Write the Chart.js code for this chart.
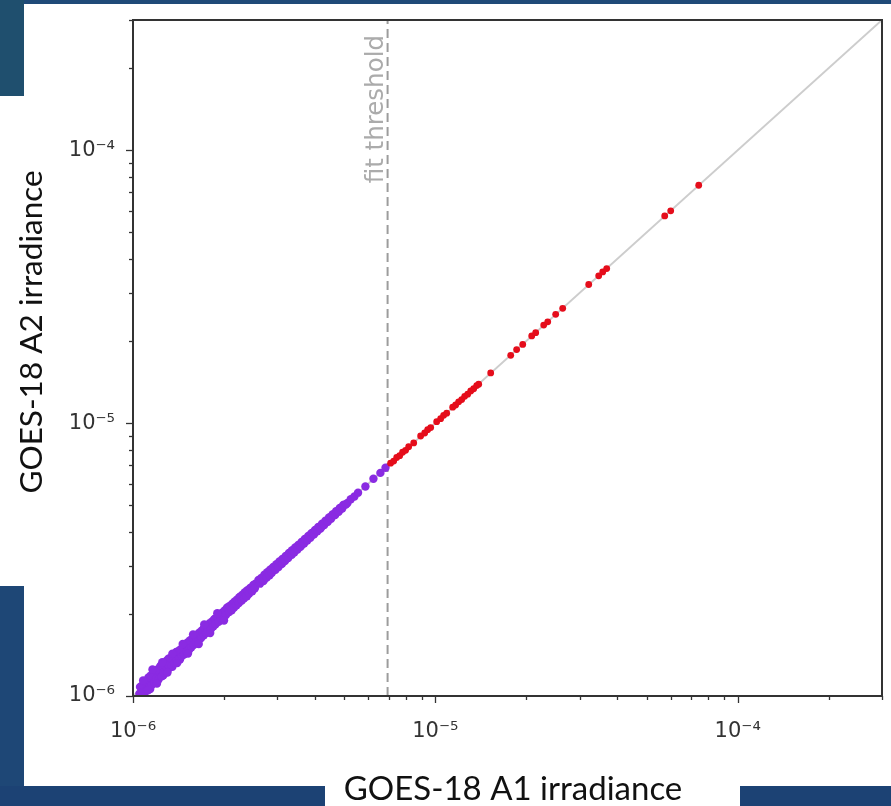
<!DOCTYPE html>
<html>
<head>
<meta charset="utf-8">
<script src="https://cdn.jsdelivr.net/npm/chart.js@4.4.1/dist/chart.umd.min.js"></script>
<style>
  html,body{margin:0;padding:0;background:#ffffff;}
  #wrap{position:relative;width:891px;height:806px;overflow:hidden;background:#ffffff;}
  .blk{position:absolute;}
  canvas{position:absolute;left:0;top:0;}
</style>
</head>
<body>
<div id="wrap">
  <div class="blk" style="left:0;top:0;width:891px;height:4px;background:#1f4a78;"></div>
  <div class="blk" style="left:0;top:0;width:24px;height:96px;background:#1f4f6e;"></div>
  <div class="blk" style="left:0;top:586px;width:24px;height:220px;background:#1e4776;"></div>
  <div class="blk" style="left:0;top:786px;width:325px;height:20px;background:#1c4274;"></div>
  <div class="blk" style="left:740px;top:786px;width:151px;height:20px;background:#1c4274;"></div>
  <canvas id="c" width="891" height="806"></canvas>
</div>
<script>
// ---- data ----
const axisMin = 1e-6;
const axisMax = 3e-4;
const fitThreshold = 6.95e-6;

const majorTicks = [1e-6, 1e-5, 1e-4];
const majorTickLabels = ['10\u207B\u2076', '10\u207B\u2075', '10\u207B\u2074'];
const minorTicks = [2e-6,3e-6,4e-6,5e-6,6e-6,7e-6,8e-6,9e-6,
                    2e-5,3e-5,4e-5,5e-5,6e-5,7e-5,8e-5,9e-5,
                    2e-4,3e-4];

const xTitle = 'GOES-18 A1 irradiance';
const yTitle = 'GOES-18 A2 irradiance';
const thresholdLabel = 'fit threshold';

// below threshold (purple)
const belowA1 = [1.05e-6,1.06e-6,1.07e-6,1.08e-6,1.09e-6,1.10e-6,1.11e-6,1.12e-6,1.13e-6,1.14e-6,1.15e-6,1.16e-6,1.17e-6,1.18e-6,1.19e-6,1.20e-6,1.21e-6,1.22e-6,1.23e-6,1.24e-6,1.25e-6,1.26e-6,1.27e-6,1.29e-6,1.30e-6,1.31e-6,1.32e-6,1.34e-6,1.35e-6,1.36e-6,1.38e-6,1.39e-6,1.40e-6,1.42e-6,1.43e-6,1.44e-6,1.46e-6,1.47e-6,1.48e-6,1.50e-6,1.52e-6,1.53e-6,1.55e-6,1.57e-6,1.58e-6,1.60e-6,1.62e-6,1.64e-6,1.65e-6,1.67e-6,1.70e-6,1.71e-6,1.73e-6,1.76e-6,1.78e-6,1.79e-6,1.82e-6,1.85e-6,1.86e-6,1.88e-6,1.91e-6,1.94e-6,1.95e-6,1.98e-6,2.02e-6,2.04e-6,2.06e-6,2.10e-6,2.12e-6,2.14e-6,2.18e-6,2.22e-6,2.25e-6,2.27e-6,2.31e-6,2.36e-6,2.38e-6,2.41e-6,2.46e-6,2.51e-6,2.54e-6,2.62e-6,2.68e-6,2.71e-6,2.74e-6,2.80e-6,2.86e-6,2.90e-6,2.93e-6,3.00e-6,3.07e-6,3.10e-6,3.14e-6,3.22e-6,3.30e-6,3.34e-6,3.38e-6,3.46e-6,3.55e-6,3.60e-6,3.64e-6,3.73e-6,3.83e-6,3.88e-6,3.93e-6,4.03e-6,4.14e-6,4.20e-6,4.25e-6,4.37e-6,4.49e-6,4.55e-6,4.61e-6,4.74e-6,4.87e-6,5.00e-6,5.12e-6,5.25e-6,5.40e-6,5.55e-6,5.87e-6,6.24e-6,6.58e-6,6.84e-6];
const belowA2 = [1.02e-6,1.00e-6,1.09e-6,1.04e-6,1.01e-6,1.12e-6,1.07e-6,1.15e-6,1.10e-6,1.06e-6,1.13e-6,1.19e-6,1.23e-6,1.15e-6,1.22e-6,1.13e-6,1.18e-6,1.25e-6,1.28e-6,1.21e-6,1.27e-6,1.19e-6,1.24e-6,1.31e-6,1.27e-6,1.37e-6,1.34e-6,1.31e-6,1.28e-6,1.38e-6,1.35e-6,1.45e-6,1.42e-6,1.39e-6,1.36e-6,1.46e-6,1.43e-6,1.53e-6,1.50e-6,1.47e-6,1.54e-6,1.47e-6,1.52e-6,1.59e-6,1.63e-6,1.57e-6,1.64e-6,1.58e-6,1.62e-6,1.69e-6,1.67e-6,1.76e-6,1.75e-6,1.73e-6,1.72e-6,1.81e-6,1.79e-6,1.87e-6,1.91e-6,1.86e-6,1.93e-6,1.89e-6,1.92e-6,2.00e-6,1.99e-6,2.09e-6,2.08e-6,2.07e-6,2.06e-6,2.16e-6,2.15e-6,2.24e-6,2.30e-6,2.24e-6,2.33e-6,2.33e-6,2.32e-6,2.43e-6,2.43e-6,2.53e-6,2.58e-6,2.64e-6,2.65e-6,2.66e-6,2.76e-6,2.77e-6,2.88e-6,2.94e-6,2.90e-6,3.02e-6,3.04e-6,3.06e-6,3.16e-6,3.19e-6,3.32e-6,3.38e-6,3.35e-6,3.48e-6,3.52e-6,3.56e-6,3.66e-6,3.71e-6,3.85e-6,3.92e-6,3.90e-6,4.05e-6,4.11e-6,4.16e-6,4.27e-6,4.34e-6,4.51e-6,4.58e-6,4.59e-6,4.76e-6,4.85e-6,5.02e-6,5.10e-6,5.26e-6,5.38e-6,5.56e-6,5.86e-6,6.25e-6,6.57e-6,6.86e-6];
const belowMoreA1 = [1.055e-6,1.075e-6,1.095e-6,1.105e-6,1.125e-6,1.135e-6,1.145e-6,1.155e-6,1.165e-6,1.175e-6,1.185e-6,1.195e-6,1.205e-6,1.215e-6,1.235e-6,1.245e-6,1.255e-6,1.265e-6,1.28e-6,1.285e-6,1.295e-6,1.305e-6,1.315e-6,1.33e-6,1.345e-6,1.355e-6,1.37e-6,1.385e-6,1.395e-6,1.41e-6,1.425e-6,1.435e-6,1.45e-6,1.465e-6,1.475e-6,1.49e-6,1.505e-6,1.515e-6,1.535e-6,1.545e-6,1.56e-6,1.575e-6,1.59e-6,1.605e-6,1.615e-6,1.63e-6,1.645e-6,1.66e-6,1.68e-6,1.69e-6,1.715e-6,1.725e-6,1.745e-6,1.755e-6,1.77e-6,1.795e-6,1.81e-6,1.83e-6,1.845e-6,1.865e-6,1.875e-6,1.90e-6,1.92e-6,1.935e-6,1.96e-6,1.97e-6,1.99e-6,2.01e-6,2.03e-6,2.05e-6,2.08e-6,2.09e-6,2.115e-6,2.13e-6,2.16e-6,2.17e-6,2.20e-6,2.21e-6,2.24e-6,2.26e-6,2.29e-6,2.30e-6,2.33e-6,2.345e-6,2.37e-6,2.39e-6,2.42e-6,2.44e-6,2.48e-6,2.50e-6,2.53e-6,2.60e-6,2.63e-6,2.66e-6,2.70e-6,2.72e-6,2.77e-6,2.78e-6,2.83e-6,2.84e-6,2.88e-6,2.91e-6,2.96e-6,2.98e-6,3.03e-6,3.05e-6,3.11e-6,3.12e-6,3.18e-6,3.20e-6,3.26e-6,3.28e-6,3.35e-6,3.36e-6,3.42e-6,3.44e-6,3.50e-6,3.52e-6,3.58e-6,3.61e-6,3.68e-6,3.70e-6,3.77e-6,3.80e-6,3.86e-6,3.90e-6,3.97e-6,4.00e-6,4.07e-6,4.10e-6,4.17e-6,4.22e-6,4.29e-6,4.33e-6,4.41e-6,4.45e-6,4.52e-6,4.58e-6,4.66e-6,4.70e-6,4.79e-6,4.83e-6,4.92e-6,4.96e-6,5.06e-6];
const belowMoreA2 = [1.08e-6,1.03e-6,1.13e-6,1.05e-6,1.17e-6,1.08e-6,1.19e-6,1.10e-6,1.21e-6,1.12e-6,1.24e-6,1.16e-6,1.25e-6,1.15e-6,1.29e-6,1.18e-6,1.31e-6,1.22e-6,1.33e-6,1.23e-6,1.35e-6,1.25e-6,1.29e-6,1.38e-6,1.29e-6,1.40e-6,1.32e-6,1.43e-6,1.35e-6,1.46e-6,1.37e-6,1.48e-6,1.40e-6,1.51e-6,1.42e-6,1.54e-6,1.45e-6,1.57e-6,1.49e-6,1.60e-6,1.51e-6,1.62e-6,1.54e-6,1.66e-6,1.57e-6,1.68e-6,1.60e-6,1.71e-6,1.63e-6,1.74e-6,1.67e-6,1.78e-6,1.70e-6,1.80e-6,1.73e-6,1.85e-6,1.76e-6,1.88e-6,1.80e-6,1.92e-6,1.83e-6,1.95e-6,1.87e-6,1.98e-6,1.91e-6,2.02e-6,1.94e-6,2.06e-6,1.98e-6,2.11e-6,2.03e-6,2.14e-6,2.07e-6,2.18e-6,2.11e-6,2.22e-6,2.15e-6,2.26e-6,2.19e-6,2.31e-6,2.24e-6,2.35e-6,2.28e-6,2.40e-6,2.32e-6,2.44e-6,2.37e-6,2.49e-6,2.42e-6,2.55e-6,2.48e-6,2.66e-6,2.58e-6,2.71e-6,2.64e-6,2.78e-6,2.72e-6,2.84e-6,2.77e-6,2.90e-6,2.83e-6,2.97e-6,2.90e-6,3.04e-6,2.97e-6,3.11e-6,3.05e-6,3.18e-6,3.12e-6,3.26e-6,3.20e-6,3.34e-6,3.29e-6,3.42e-6,3.36e-6,3.50e-6,3.44e-6,3.58e-6,3.52e-6,3.67e-6,3.62e-6,3.76e-6,3.71e-6,3.86e-6,3.80e-6,3.96e-6,3.91e-6,4.06e-6,4.01e-6,4.16e-6,4.11e-6,4.28e-6,4.23e-6,4.39e-6,4.35e-6,4.51e-6,4.46e-6,4.64e-6,4.60e-6,4.76e-6,4.73e-6,4.89e-6,4.86e-6,5.01e-6,5.03e-6];
const belowSpreadA1 = [1.08e-6,1.12e-6,1.16e-6,1.20e-6,1.25e-6,1.30e-6,1.35e-6,1.40e-6,1.46e-6,1.52e-6,1.58e-6,1.65e-6,1.72e-6,1.80e-6,1.90e-6,2.00e-6];
const belowSpreadA2 = [1.14e-6,1.05e-6,1.25e-6,1.11e-6,1.33e-6,1.22e-6,1.43e-6,1.32e-6,1.55e-6,1.43e-6,1.68e-6,1.55e-6,1.83e-6,1.70e-6,2.01e-6,1.89e-6];

// above threshold (red)
const aboveA1 = [7.11e-6,7.28e-6,7.45e-6,7.62e-6,7.79e-6,7.97e-6,8.16e-6,8.48e-6,8.94e-6,9.22e-6,9.43e-6,9.65e-6,10.10e-6,10.41e-6,10.65e-6,10.90e-6,11.41e-6,11.67e-6,11.94e-6,12.22e-6,12.50e-6,12.79e-6,13.09e-6,13.39e-6,13.70e-6,13.91e-6,15.24e-6,17.75e-6,18.57e-6,19.45e-6,20.83e-6,21.47e-6,22.82e-6,23.53e-6,25.00e-6,26.37e-6,32.15e-6,34.69e-6,35.76e-6,36.87e-6,57.35e-6,60.03e-6,74.30e-6];
const aboveA2 = [7.13e-6,7.26e-6,7.48e-6,7.60e-6,7.82e-6,7.95e-6,8.19e-6,8.46e-6,8.97e-6,9.20e-6,9.46e-6,9.63e-6,10.12e-6,10.38e-6,10.68e-6,10.87e-6,11.44e-6,11.65e-6,11.97e-6,12.20e-6,12.53e-6,12.76e-6,13.12e-6,13.36e-6,13.73e-6,13.89e-6,15.27e-6,17.72e-6,18.60e-6,19.42e-6,20.87e-6,21.44e-6,22.86e-6,23.50e-6,25.04e-6,26.33e-6,32.20e-6,34.64e-6,35.81e-6,36.83e-6,57.42e-6,59.96e-6,74.40e-6];

// ---- build ----
const toPts = (xs, ys) => xs.map((x, i) => ({x: x, y: ys[i]}));
const allTicks = majorTicks.concat(minorTicks).sort((a, b) => a - b);
const isMajor = v => majorTicks.some(m => Math.abs(m - v) / m < 1e-9);
const labelFor = v => {
  const i = majorTicks.findIndex(m => Math.abs(m - v) / m < 1e-9);
  return i >= 0 ? majorTickLabels[i] : '';
};
const zeroPad = s => { s.paddingTop = 0; s.paddingBottom = 0; s.paddingLeft = 0; s.paddingRight = 0; };

const TICK_FONT = {family: 'DejaVu Sans', size: 21};

const decor = {
  id: 'decor',
  afterDatasetsDraw(chart) {
    const {ctx, chartArea: a, scales: {x}} = chart;
    const px = x.getPixelForValue(fitThreshold);
    ctx.save();
    ctx.translate(px - 5, a.top + 15);
    ctx.rotate(-Math.PI / 2);
    ctx.font = '24.5px "DejaVu Sans"';
    ctx.fillStyle = '#ababab';
    ctx.textAlign = 'right';
    ctx.textBaseline = 'alphabetic';
    ctx.fillText(thresholdLabel, 0, 0);
    ctx.restore();
  },
  afterDraw(chart) {
    const {ctx, chartArea: a, scales: {x, y}} = chart;
    ctx.save();
    ctx.strokeStyle = '#333333';
    ctx.lineWidth = 1.3;
    allTicks.forEach(v => {
      const len = isMajor(v) ? 7 : 4;
      const xp = Math.round(x.getPixelForValue(v)) + 0.5;
      ctx.beginPath(); ctx.moveTo(xp, a.bottom); ctx.lineTo(xp, a.bottom + len); ctx.stroke();
      const yp = Math.round(y.getPixelForValue(v)) + 0.5;
      ctx.beginPath(); ctx.moveTo(a.left, yp); ctx.lineTo(a.left - len, yp); ctx.stroke();
    });
    ctx.lineWidth = 2;
    ctx.strokeRect(a.left, a.top, a.right - a.left, a.bottom - a.top);
    ctx.fillStyle = '#111111';
    ctx.textAlign = 'center';
    ctx.textBaseline = 'alphabetic';
    ctx.font = '33px Lato';
    ctx.fillText(xTitle, 513, 800);
    ctx.font = '31.5px Lato';
    ctx.translate(42, 332);
    ctx.rotate(-Math.PI / 2);
    ctx.fillText(yTitle, 0, 0);
    ctx.restore();
  }
};

new Chart(document.getElementById('c'), {
  type: 'scatter',
  data: {
    datasets: [
      {label: 'below threshold',
       data: toPts(belowA1, belowA2).concat(toPts(belowMoreA1, belowMoreA2), toPts(belowSpreadA1, belowSpreadA2)),
       backgroundColor: '#8a2be2', borderWidth: 0, pointRadius: 4.2, order: 1},
      {label: 'above threshold', data: toPts(aboveA1, aboveA2), backgroundColor: '#e50d1b', borderWidth: 0, pointRadius: 3.4, order: 0},
      {label: 'fit threshold', type: 'line', data: [{x: fitThreshold, y: axisMin}, {x: fitThreshold, y: axisMax}],
       borderColor: '#9c9c9c', borderWidth: 2, borderDash: [9, 5], pointRadius: 0, order: 2},
      {label: 'one-to-one', type: 'line', data: [{x: axisMin, y: axisMin}, {x: axisMax, y: axisMax}],
       borderColor: '#cdcdcd', borderWidth: 2, pointRadius: 0, order: 3}
    ]
  },
  options: {
    responsive: false,
    animation: false,
    events: [],
    layout: {padding: {left: 0, top: 20, right: 9, bottom: 0}, autoPadding: false},
    plugins: {legend: {display: false}, tooltip: {enabled: false}},
    scales: {
      x: {
        type: 'logarithmic', min: axisMin, max: axisMax,
        grid: {display: false, drawTicks: false},
        border: {display: false},
        afterBuildTicks: s => { s.ticks = allTicks.map(v => ({value: v, major: isMajor(v)})); },
        afterFit: s => { s.height = 110; zeroPad(s); },
        ticks: {autoSkip: false, maxRotation: 0, minRotation: 0, padding: 23, color: '#333333', font: TICK_FONT,
                callback: v => labelFor(v)}
      },
      y: {
        type: 'logarithmic', min: axisMin, max: axisMax,
        grid: {display: false, drawTicks: false},
        border: {display: false},
        afterBuildTicks: s => { s.ticks = allTicks.map(v => ({value: v, major: isMajor(v)})); },
        afterFit: s => { s.width = 133; zeroPad(s); },
        ticks: {autoSkip: false, padding: 18, color: '#333333', font: TICK_FONT,
                callback: v => labelFor(v)}
      }
    }
  },
  plugins: [decor]
});
</script>
</body>
</html>
